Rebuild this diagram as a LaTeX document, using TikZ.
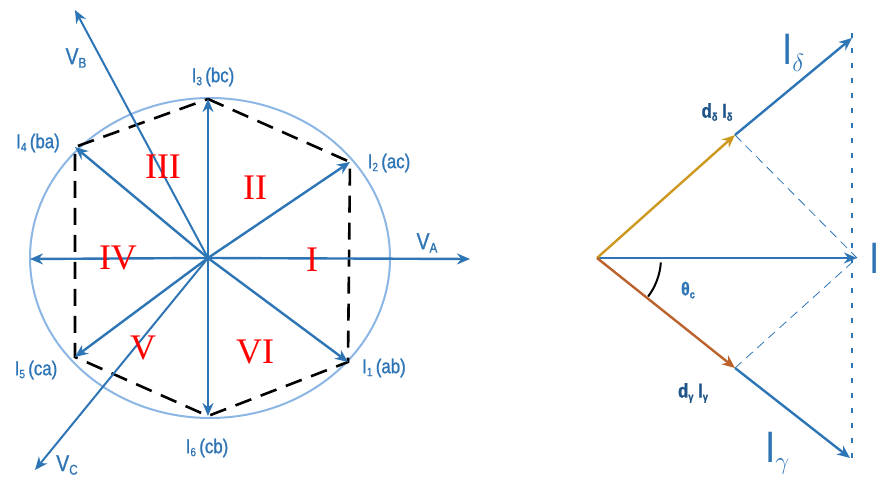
\documentclass[tikz,border=0pt]{standalone}
\usepackage{fontspec}
\setmainfont{Liberation Sans}
\newfontfamily\narrowsans[FakeStretch=0.84, FakeBold=1]{Liberation Sans}
\newfontfamily\thinsans[FakeStretch=0.84]{Liberation Sans}
\newfontfamily\romanfont{Liberation Serif}
\usetikzlibrary{arrows.meta, positioning, calc}

\definecolor{phasorblue}{RGB}{46,117,182}
\definecolor{rimblue}{RGB}{140,182,228}
\definecolor{dgold}{RGB}{204,152,30}
\definecolor{dbrown}{RGB}{188,98,44}
\definecolor{darkblue}{RGB}{31,84,136}

\newcommand{\lowsub}[2]{\raisebox{-0.15em}{\fontsize{#1}{#1}\selectfont #2}}

\begin{document}
\begin{tikzpicture}[
  x=1pt, y=1pt,
  vec/.style    = {-{Stealth[length=13pt,width=11pt]}, line width=2.4pt, draw=phasorblue},
  dvec/.style   = {-{Stealth[length=13pt,width=11pt]}, line width=2.4pt},
  hexedge/.style= {dash pattern=on 17pt off 10pt, line width=2.6pt, draw=black},
  guide/.style  = {dash pattern=on 9pt off 6pt, line width=0.8pt, draw=phasorblue},
  lbl/.style    = {text=phasorblue, font=\narrowsans\fontsize{20}{20}\selectfont, inner sep=0pt},
  vlbl/.style   = {text=phasorblue, font=\narrowsans\fontsize{23}{23}\selectfont, inner sep=0pt},
  biglbl/.style = {text=phasorblue, font=\thinsans\fontsize{44}{44}\selectfont, inner sep=0pt},
  dlbl/.style   = {text=darkblue, font=\narrowsans\bfseries\fontsize{20}{20}\selectfont, inner sep=0pt},
  sector/.style = {text=red, font=\romanfont\fontsize{36}{36}\selectfont, inner sep=0pt},
]
\useasboundingbox (0,0) rectangle (879,479);

%% ── Left diagram: space vectors ─────────────────────────────────────────
\coordinate (O)  at (208,221);
\coordinate (I1) at (348,117);
\coordinate (I2) at (350,317);
\coordinate (I3) at (208,380);
\coordinate (I4) at (75,332);
\coordinate (I5) at (75,122);
\coordinate (I6) at (208,63);
\coordinate (W)  at (30,220);
\coordinate (VA) at (470,220);
\coordinate (VB) at (75,469);
\coordinate (VC) at (35,9);

\draw[rimblue, line width=2pt] (210,221) ellipse [x radius=180, y radius=160];
\draw[hexedge] (I3) -- (I2) -- (I1) -- (I6) -- (I5) -- (I4) -- cycle;

\foreach \tip in {I1,I2,I3,I4,I5,I6,W,VA}
  \draw[vec] (O) -- (\tip);
\draw[vec, line width=2pt] (O) -- (VB);
\draw[vec, line width=2pt] (O) -- (VC);

%% ── Labels ───────────────────────────────────────────────────────────────
\node[vlbl] (lVB) at (76,421)  {V\lowsub{14}{B}};
\node[vlbl] (lVA) at (427,236) {V\lowsub{14}{A}};
\node[vlbl] (lVC) at (67,14)   {V\lowsub{14}{C}};
\node[lbl] (l3)  at (213,402) {I\lowsub{12}{3}\,(bc)};
\node[lbl] (l4)  at (38,336)  {I\lowsub{12}{4}\,(ba)};
\node[lbl] (l2)  at (389,316) {I\lowsub{12}{2}\,(ac)};
\node[lbl] (l1)  at (384,111) {I\lowsub{12}{1}\,(ab)};
\node[lbl] (l5)  at (36,109)  {I\lowsub{12}{5}\,(ca)};
\node[lbl] (l6)  at (207,31)  {I\lowsub{12}{6}\,(cb)};

\node[sector] (sIII) at (163,312) {III};
\node[sector] (sII)  at (255,291) {II};
\node[sector] (sIV)  at (118,221) {IV};
\node[sector] (sI)   at (312,219) {I};
\node[sector] (sV)   at (143,131) {V};
\node[sector] (sVI)  at (255,127) {VI};

%% ── Right diagram: vector decomposition ─────────────────────────────────
\coordinate (P)   at (597,221);
\coordinate (Ir)  at (857,221);
\coordinate (Dd)  at (735,344);
\coordinate (Id)  at (852,441);
\coordinate (Dg)  at (735,111);
\coordinate (Ig)  at (850,21);
\coordinate (top) at (852,446);
\coordinate (bot) at (852,14);

\draw[phasorblue, line width=2.6pt, dash pattern=on 5pt off 10pt] (top) -- (bot);
\draw[guide] (Dd) -- (Ir);
\draw[guide] (Dg) -- (Ir);

\draw[vec] (P) -- (Ir);
\draw[vec] (Dd) -- (Id);
\draw[vec] (Dg) -- (Ig);
\draw[dvec, draw=dgold] (P) -- (Dd);
\draw[dvec, draw=dbrown] (P) -- (Dg);
\draw[line width=2pt] ($(P)+(-4:64)$) arc [start angle=-4, end angle=-37, radius=64];

\node[biglbl, anchor=west] (lI)  at (869,221) {I};
\node[biglbl, anchor=base west] (lId) at (782,414) {I\lowsub{26}{$\delta$}};
\node[biglbl, anchor=base west] (lIg) at (765,16)  {I\lowsub{26}{$\gamma$}};
\node[dlbl]   (ldd) at (717,367) {d\lowsub{11}{δ} I\lowsub{11}{δ}};
\node[dlbl]   (ldg) at (693,86)  {d\lowsub{11}{γ} I\lowsub{11}{γ}};
\node[dlbl, text=phasorblue, font=\narrowsans\bfseries\fontsize{19}{19}\selectfont] (ltheta) at (688,189) {θ\lowsub{11}{c}};

\end{tikzpicture}
\end{document}
